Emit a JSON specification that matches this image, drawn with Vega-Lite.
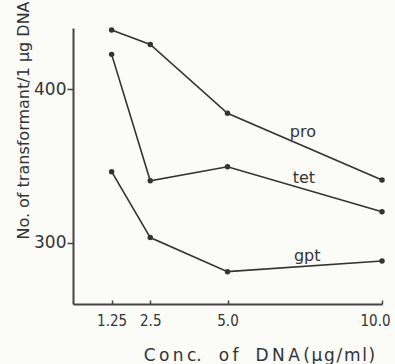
{
  "$schema": "https://vega.github.io/schema/vega-lite/v6.json",
  "width": 309,
  "height": 276,
  "autosize": "none",
  "padding": {"left": 73, "top": 28, "right": 13, "bottom": 60},
  "background": "#fbfbf8",
  "config": {"view": {"stroke": null}, "font": "DejaVu Sans"},
  "datasets": {
    "points": [
      {"series": "pro", "conc": 1.25, "count": 438.7},
      {"series": "pro", "conc": 2.5, "count": 429.3},
      {"series": "pro", "conc": 5.0, "count": 384.4},
      {"series": "pro", "conc": 10.0, "count": 340.9},
      {"series": "tet", "conc": 1.25, "count": 422.8},
      {"series": "tet", "conc": 2.5, "count": 340.4},
      {"series": "tet", "conc": 5.0, "count": 349.5},
      {"series": "tet", "conc": 10.0, "count": 320.2},
      {"series": "gpt", "conc": 1.25, "count": 346.3},
      {"series": "gpt", "conc": 2.5, "count": 303.3},
      {"series": "gpt", "conc": 5.0, "count": 281.1},
      {"series": "gpt", "conc": 10.0, "count": 288.0}
    ],
    "labels": [
      {"series": "pro", "conc": 7.44, "count": 369.1},
      {"series": "tet", "conc": 7.47, "count": 339.1},
      {"series": "gpt", "conc": 7.58, "count": 288.3}
    ]
  },
  "layer": [
    {
      "data": {"name": "points"},
      "mark": {"type": "line", "color": "#333333", "strokeWidth": 1.6},
      "encoding": {
        "x": {
          "field": "conc", "type": "quantitative",
          "scale": {"domain": [0, 10], "nice": false},
          "axis": {
            "values": [1.25, 2.5, 5, 10],
            "labelExpr": "datum.value == 1.25 ? '1.25' : datum.value == 2.5 ? '2.5' : format(datum.value, '.1f')",
            "grid": false,
            "domainColor": "#444444", "domainWidth": 2,
            "tickColor": "#444444", "tickSize": -4, "tickWidth": 1.5,
            "labelFont": "DejaVu Sans Condensed",
            "labelFontSize": 15, "labelColor": "#333333", "labelPadding": 13,
            "labelFlush": false,
            "labelOffset": {"condition": {"test": "datum.value == 10", "value": -7}, "value": 0},
            "title": "C\u2009o\u2009n\u2009c.\u2003o\u2009f\u2003D\u2009N\u2009A\u2009(\u200aµ\u200ag\u200a/\u200am\u200al\u200a)",
            "titleFontSize": 17, "titleFontWeight": "normal", "titleColor": "#333333",
            "titleX": 186, "titleY": 56, "titleAlign": "center", "titleBaseline": "alphabetic"
          }
        },
        "y": {
          "field": "count", "type": "quantitative",
          "scale": {"domain": [260, 440], "nice": false, "zero": false},
          "axis": {
            "values": [300, 400],
            "grid": false,
            "domainColor": "#444444", "domainWidth": 2,
            "tickColor": "#444444", "tickSize": 6, "tickWidth": 1.5,
            "labelFontSize": 17, "labelColor": "#333333", "labelPadding": 1,
            "title": "No. of transformant/1 µg DNA",
            "titleFontSize": 16, "titleFontWeight": "normal", "titleColor": "#333333",
            "titleX": -50, "titleY": 92, "titleAlign": "center", "titleBaseline": "middle"
          }
        },
        "detail": {"field": "series"}
      }
    },
    {
      "data": {"name": "points"},
      "mark": {"type": "point", "filled": true, "color": "#333333", "size": 30, "opacity": 1},
      "encoding": {
        "x": {"field": "conc", "type": "quantitative"},
        "y": {"field": "count", "type": "quantitative"}
      }
    },
    {
      "data": {"name": "labels"},
      "mark": {"type": "text", "fontSize": 16, "color": "#333333", "baseline": "alphabetic"},
      "encoding": {
        "x": {"field": "conc", "type": "quantitative"},
        "y": {"field": "count", "type": "quantitative"},
        "text": {"field": "series"}
      }
    }
  ]
}
